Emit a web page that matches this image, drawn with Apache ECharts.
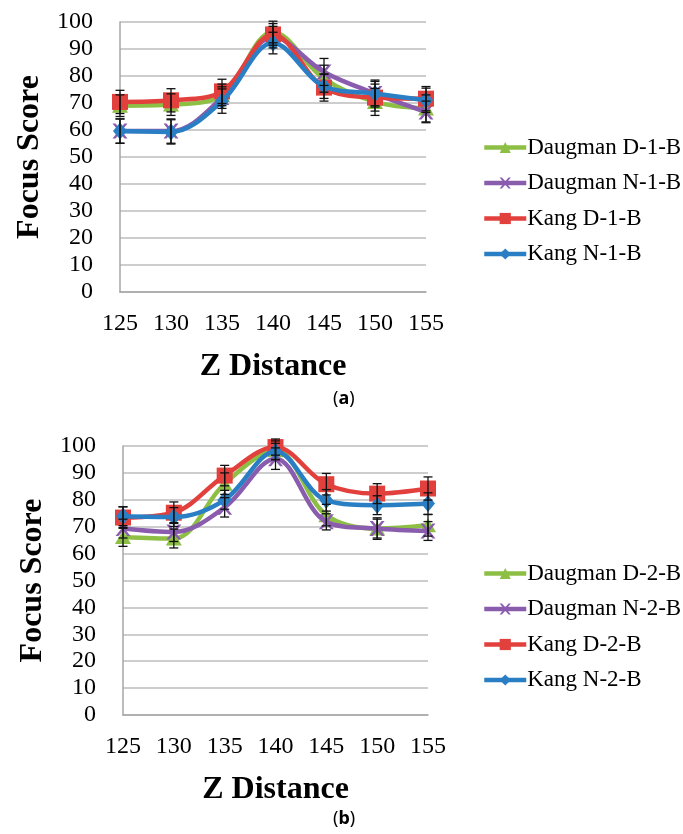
<!DOCTYPE html>
<html>
  <head>
    <meta charset="utf-8" />
    <title>Focus Score vs Z Distance</title>
    <script src="https://cdn.jsdelivr.net/npm/echarts@6/dist/echarts.min.js"></script>
    <style>
      html, body { margin: 0; padding: 0; background: #ffffff; }
      #chart { width: 683px; height: 834px; }
    </style>
  </head>
  <body>
    <div id="chart"></div>
    <script type="text/javascript">
      // x categories (Z distance)
      var zDistance = ["125", "130", "135", "140", "145", "150", "155"];
      var yTicks = [0, 10, 20, 30, 40, 50, 60, 70, 80, 90, 100];

      // panel (a)
      var namesA = ["Daugman D-1-B", "Daugman N-1-B", "Kang D-1-B", "Kang N-1-B"];
      var daugmanD1 = [69, 69.4, 73, 96.3, 79, 70.4, 68];
      var daugmanN1 = [59.6, 59.6, 72, 94.4, 81.5, 73.5, 66.7];
      var kangD1 = [70.4, 71, 74.3, 95.4, 75.7, 72, 71.6];
      var kangN1 = [59.6, 59.3, 70.7, 92.2, 76.2, 73.5, 71];
      var errDaugmanD1 = [4, 4, 4, 4, 5, 5, 5];
      var errDaugmanN1 = [4.5, 4.5, 4, 4, 5, 5, 4];
      var errKangD1 = [4.3, 4.3, 4.5, 4, 5, 5, 4.5];
      var errKangN1 = [4.5, 4.5, 4.5, 4, 4.5, 4.5, 4.5];

      // panel (b)
      var namesB = ["Daugman D-2-B", "Daugman N-2-B", "Kang D-2-B", "Kang N-2-B"];
      var daugmanD2 = [66.2, 65.6, 86, 98.4, 74.3, 69.3, 70.5];
      var daugmanN2 = [69.3, 68, 77.2, 95.3, 71.8, 69.3, 68.4];
      var kangD2 = [73.4, 75.2, 89, 99.6, 85.8, 82.3, 84.2];
      var kangN2 = [73.9, 73.6, 80, 98, 79.8, 78, 78.6];
      var errDaugmanD2 = [3.5, 3.5, 4, 3.5, 4, 4, 4];
      var errDaugmanN2 = [3.5, 3.5, 3.6, 4, 3, 3.5, 3.5];
      var errKangD2 = [4, 4, 3.8, 3, 4, 3.7, 4.3];
      var errKangN2 = [3.5, 3.5, 3.5, 3, 4, 3.5, 4];

      var colors = ["#8ebf45", "#8a5cae", "#e2403c", "#2a7fc4"];
      var crossPath = "path://M0,0L2,0L5,3.5L8,0L10,0L6,5L10,10L8,10L5,6.5L2,10L0,10L4,5Z";
      var symbols = ["triangle", crossPath, "rect", "diamond"];
      var symbolSizes = [[16, 14], [15, 15], [16, 16], [14, 17]];
      var serif = "'Liberation Serif', 'Times New Roman', serif";

      var chart = echarts.init(document.getElementById("chart"));

      function lineSeries(name, data, i, axisIndex) {
        return {
          name: name,
          type: "line",
          xAxisIndex: axisIndex,
          yAxisIndex: axisIndex,
          data: data,
          smooth: 0.35,
          symbol: symbols[i],
          symbolSize: symbolSizes[i],
          itemStyle: { color: colors[i] },
          lineStyle: { color: colors[i], width: 4.5 },
          z: 2 + i
        };
      }

      function errorSeries(valueSets, errSets, axisIndex) {
        var pts = [];
        for (var s = 0; s < valueSets.length; s++) {
          for (var k = 0; k < valueSets[s].length; k++) {
            pts.push([k, valueSets[s][k] - errSets[s][k], valueSets[s][k] + errSets[s][k]]);
          }
        }
        return {
          type: "custom",
          xAxisIndex: axisIndex,
          yAxisIndex: axisIndex,
          z: 10,
          silent: true,
          data: pts,
          renderItem: function(params, api) {
            var lo = api.coord([api.value(0), api.value(1)]);
            var hi = api.coord([api.value(0), api.value(2)]);
            var w = 4.5;
            var st = { stroke: "#111111", lineWidth: 1.3 };
            return {
              type: "group",
              children: [
                { type: "line", shape: { x1: lo[0], y1: lo[1], x2: hi[0], y2: hi[1] }, style: st },
                { type: "line", shape: { x1: lo[0] - w, y1: lo[1], x2: lo[0] + w, y2: lo[1] }, style: st },
                { type: "line", shape: { x1: hi[0] - w, y1: hi[1], x2: hi[0] + w, y2: hi[1] }, style: st }
              ]
            };
          }
        };
      }

      function xAxisFor(gridIndex) {
        return {
          gridIndex: gridIndex,
          type: "category",
          data: zDistance,
          boundaryGap: false,
          name: "Z Distance",
          nameLocation: "middle",
          nameGap: 59,
          nameTextStyle: { fontFamily: serif, fontSize: 32, fontWeight: "bold", color: "#000" },
          axisLine: { lineStyle: { color: "#a6a6a6", width: 1.5 } },
          axisTick: { show: false },
          axisLabel: { fontFamily: serif, fontSize: 24, color: "#000", margin: 20 },
          splitLine: { show: false }
        };
      }

      function yAxisFor(gridIndex) {
        return {
          gridIndex: gridIndex,
          type: "value",
          min: yTicks[0],
          max: yTicks[yTicks.length - 1],
          interval: 10,
          name: "Focus Score",
          nameLocation: "middle",
          nameGap: 74,
          nameTextStyle: { fontFamily: serif, fontSize: 32, fontWeight: "bold", color: "#000" },
          axisLine: { show: true, lineStyle: { color: "#a6a6a6", width: 1.5 } },
          axisTick: { show: false },
          axisLabel: { fontFamily: serif, fontSize: 24, color: "#000", margin: 27 },
          splitLine: { lineStyle: { color: "#bdbdbd", width: 1.5 } }
        };
      }

      function legendFor(names, top) {
        return {
          data: names,
          orient: "vertical",
          left: 477,
          top: top,
          itemWidth: 42,
          itemHeight: 14,
          itemGap: 12.5,
          lineStyle: { width: 4.5 },
          textStyle: { fontFamily: serif, fontSize: 23, color: "#000", padding: [0, 0, 0, -4] }
        };
      }

      var option = {
        animation: false,
        backgroundColor: "#ffffff",
        textStyle: { fontFamily: serif },
        grid: [
          { left: 120, top: 22, width: 306, height: 270 },
          { left: 123, top: 446, width: 305, height: 269 }
        ],
        xAxis: [xAxisFor(0), xAxisFor(1)],
        yAxis: [yAxisFor(0), yAxisFor(1)],
        legend: [legendFor(namesA, 131), legendFor(namesB, 557)],
        graphic: [
          {
            type: "text", left: 333, top: 390,
            style: {
              text: "({b|a})", fill: "#000",
              font: "18px 'Noto Sans'",
              rich: { b: { fontWeight: "bold", fontSize: 18, fontFamily: "Noto Sans" } }
            }
          },
          {
            type: "text", left: 333, top: 810,
            style: {
              text: "({b|b})", fill: "#000",
              font: "18px 'Noto Sans'",
              rich: { b: { fontWeight: "bold", fontSize: 18, fontFamily: "Noto Sans" } }
            }
          }
        ],
        series: [
          lineSeries(namesA[0], daugmanD1, 0, 0),
          lineSeries(namesA[1], daugmanN1, 1, 0),
          lineSeries(namesA[2], kangD1, 2, 0),
          lineSeries(namesA[3], kangN1, 3, 0),
          errorSeries([daugmanD1, daugmanN1, kangD1, kangN1], [errDaugmanD1, errDaugmanN1, errKangD1, errKangN1], 0),
          lineSeries(namesB[0], daugmanD2, 0, 1),
          lineSeries(namesB[1], daugmanN2, 1, 1),
          lineSeries(namesB[2], kangD2, 2, 1),
          lineSeries(namesB[3], kangN2, 3, 1),
          errorSeries([daugmanD2, daugmanN2, kangD2, kangN2], [errDaugmanD2, errDaugmanN2, errKangD2, errKangN2], 1)
        ]
      };
      chart.setOption(option);
    </script>
  </body>
</html>
